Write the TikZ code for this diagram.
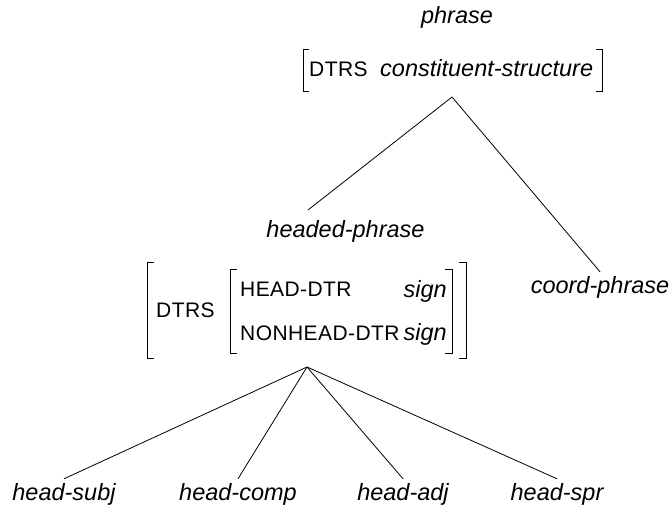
\documentclass[tikz,border=0pt]{standalone}
\usepackage{fontspec}
\setmainfont{Liberation Sans}
\begin{document}
\begin{tikzpicture}[x=1pt,y=-1pt,
  every node/.style={inner sep=0pt, anchor=base},
  typ/.style={font=\fontsize{23.5}{26}\selectfont\itshape},
  feat/.style={font=\fontsize{21}{24}\selectfont\addfontfeatures{LetterSpace=2}},
  brk/.style={line width=0.9pt},
  edge/.style={line width=0.8pt}]
\useasboundingbox (0,0) rectangle (671,507);
% top
\node[typ] (phrase) at (457,23) {phrase};
\node[feat, anchor=base west] (dtrsone) at (309,76) {DTRS};
\node[typ, anchor=base west] (cstr) at (380,76) {constituent-structure};
\draw[brk] (309,49) -- (303,49) -- (303,91) -- (309,91);
\draw[brk] (596,49) -- (602,49) -- (602,91) -- (596,91);
\coordinate (apexone) at (452,97);
% headed phrase
\node[typ] (headed) at (345.5,237) {headed-phrase};
\coordinate (headedtop) at (308,210);
\node[typ] (coord) at (600,293) {coord-phrase};
\node[feat, anchor=base west] (dtrs) at (156,317) {DTRS};
\node[feat, anchor=base west] (hd) at (240,296) {HEAD-DTR};
\node[feat, anchor=base west] (nhd) at (240,340) {NONHEAD-DTR};
\node[typ, anchor=base east] (sone) at (447,297) {sign};
\node[typ, anchor=base east] (stwo) at (447,340) {sign};
\draw[brk] (154,262) -- (147,262) -- (147,358) -- (154,358);
\draw[brk] (459,262) -- (466,262) -- (466,358) -- (459,358);
\draw[brk] (237,269) -- (230,269) -- (230,353) -- (237,353);
\draw[brk] (445,269) -- (452,269) -- (452,353) -- (445,353);
\coordinate (apextwo) at (307,367);
% leaves
\node[typ] (hsubj) at (64,500) {head-subj};
\node[typ] (hcomp) at (238,500) {head-comp};
\node[typ] (hadj) at (403,500) {head-adj};
\node[typ] (hspr) at (557,500) {head-spr};
% edges
\draw[edge] (apexone) -- (headedtop);
\draw[edge] (apexone) -- ([yshift=4pt]coord.north);
\foreach \n in {hsubj,hcomp,hadj,hspr} \draw[edge] (apextwo) -- ([yshift=4pt]\n.north);
\end{tikzpicture}
\end{document}
